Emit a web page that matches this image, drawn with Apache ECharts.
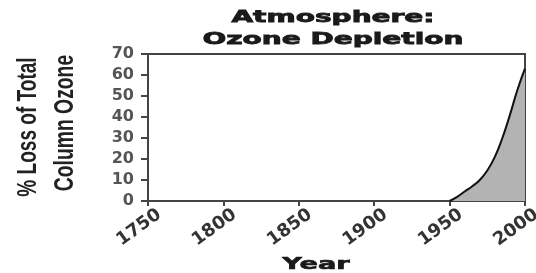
<!DOCTYPE html>
<html>
<head>
<meta charset="utf-8">
<script src="https://cdn.jsdelivr.net/npm/echarts@6/dist/echarts.min.js"></script>
<style>
html,body{margin:0;padding:0;background:#fff;}
#chart{width:536px;height:273px;}
</style>
</head>
<body>
<div id="chart"></div>
<script>
// Data
const years = [1950, 1955, 1960, 1965, 1970, 1975, 1980, 1985, 1990, 1995, 2000];
const ozoneLoss = [0, 2, 4.5, 7, 10, 14.5, 21, 30, 41, 53, 63];
const xTicks = [1750, 1800, 1850, 1900, 1950, 2000];
const yTicks = [0, 10, 20, 30, 40, 50, 60, 70];
const titleLines = ['Atmosphere:', 'Ozone Depletion'];
const yNameLines = ['% Loss of Total', 'Column Ozone'];
const xName = 'Year';

const chart = echarts.init(document.getElementById('chart'), null, {renderer: 'canvas'});

const seriesData = years.map((y, i) => [y, ozoneLoss[i]]);

const option = {
  animation: false,
  backgroundColor: '#ffffff',
  grid: {
    left: 148, right: 11, top: 54, bottom: 72,
    outerBoundsMode: 'none', containLabel: false,
    show: true, borderColor: '#444', borderWidth: 2, backgroundColor: 'transparent'
  },
  xAxis: {
    type: 'value',
    min: xTicks[0], max: xTicks[xTicks.length - 1], interval: 50,
    splitLine: {show: false},
    axisLine: {show: true, lineStyle: {color: '#444', width: 2}},
    axisTick: {show: true, inside: false, length: 5, lineStyle: {color: '#444', width: 2}},
    axisLabel: {
      rotate: 36, margin: 20, padding: [0, -14, 0, 0],
      color: '#333', fontFamily: 'DejaVu Sans', fontWeight: 'bold', fontSize: 18,
      formatter: v => xTicks.includes(v) ? String(v) : ''
    }
  },
  yAxis: {
    type: 'value',
    min: yTicks[0], max: yTicks[yTicks.length - 1], interval: 10,
    splitLine: {show: false},
    axisLine: {show: true, lineStyle: {color: '#444', width: 2}},
    axisTick: {show: true, inside: false, length: 7, lineStyle: {color: '#444', width: 2}},
    axisLabel: {
      margin: 14,
      color: '#555', fontFamily: 'DejaVu Sans', fontWeight: 'bold', fontSize: 16,
      formatter: v => yTicks.includes(v) ? String(v) : ''
    }
  },
  series: [{
    type: 'line',
    data: seriesData,
    smooth: 0.5,
    showSymbol: false,
    lineStyle: {color: '#111', width: 2},
    areaStyle: {color: '#b3b3b3', opacity: 1}
  }],
  graphic: [
    {
      type: 'text', x: 333, y: 29, scaleX: 1.75,
      style: {
        text: titleLines.join('\n'), font: 'bold 16px "DejaVu Sans"', fill: '#1a1a1a',
        stroke: '#1a1a1a', lineWidth: 0.8,
        lineHeight: 22,
        align: 'center', verticalAlign: 'middle', textAlign: 'center', textVerticalAlign: 'middle'
      }
    },
    {
      type: 'text', x: 28, y: 127, rotation: Math.PI / 2, scaleX: 0.68,
      style: {
        text: yNameLines[0], font: 'bold 28px "Liberation Sans"', fill: '#222',
        align: 'center', verticalAlign: 'middle', textAlign: 'center', textVerticalAlign: 'middle'
      }
    },
    {
      type: 'text', x: 65, y: 123, rotation: Math.PI / 2, scaleX: 0.69,
      style: {
        text: yNameLines[1], font: 'bold 28px "Liberation Sans"', fill: '#222',
        align: 'center', verticalAlign: 'middle', textAlign: 'center', textVerticalAlign: 'middle'
      }
    },
    {
      type: 'text', x: 316, y: 265, scaleX: 1.7,
      style: {
        text: xName, font: 'bold 16px "DejaVu Sans"', fill: '#1a1a1a',
        stroke: '#1a1a1a', lineWidth: 0.6,
        align: 'center', verticalAlign: 'middle', textAlign: 'center', textVerticalAlign: 'middle'
      }
    }
  ]
};
chart.setOption(option);
</script>
</body>
</html>
